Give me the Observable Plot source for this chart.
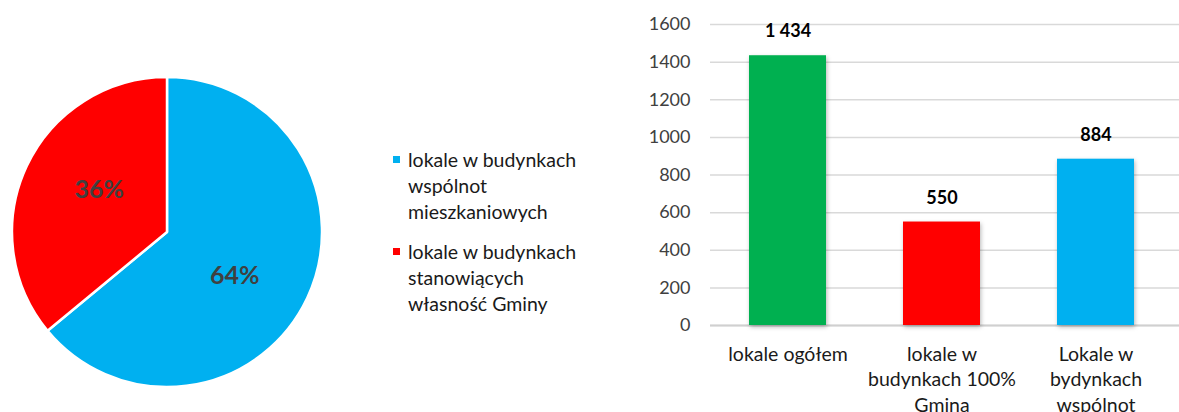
<!DOCTYPE html>
<html>
<head>
<meta charset="utf-8">
<script src="https://cdn.jsdelivr.net/npm/d3@7"></script>
<script src="https://cdn.jsdelivr.net/npm/@observablehq/plot@0.6"></script>
<style>
  html, body { margin: 0; padding: 0; background: #fff; }
  #root { position: relative; width: 1179px; height: 412px; overflow: hidden; font-family: Lato, "Open Sans", sans-serif; }
  #pie { position: absolute; left: 0; top: 0; }
  #bars { position: absolute; left: 640px; top: 0; }
  #legend { position: absolute; left: 393px; top: 147px; }
  .item { position: relative; padding-left: 15px; margin-bottom: 14px; font-size: 19.5px; line-height: 26px; color: #1a1a1a; white-space: pre-line; }
  .sw { position: absolute; left: 0; top: 9px; width: 7px; height: 7px; }
  .barshadow { filter: drop-shadow(1px 2px 2px rgba(0,0,0,0.28)); }
</style>
</head>
<body>
<div id="root">
  <div id="pie"></div>
  <div id="legend"></div>
  <div id="bars"></div>
</div>
<script>
// ---- Pie data ----
const pieCategories = ["lokale w budynkach wspólnot mieszkaniowych", "lokale w budynkach stanowiących własność Gminy"];
const pieValues = [64, 36];
const pieLabels = ["64%", "36%"];
const pieColors = ["#00B0F0", "#FF0000"];
const legendLabels = ["lokale w budynkach\nwspólnot\nmieszkaniowych", "lokale w budynkach\nstanowiących\nwłasność Gminy"];

// ---- Bar data ----
const barCategories = ["lokale ogółem", "lokale w budynkach 100% Gmina", "Lokale w bydynkach wspólnot"];
const barTickLabels = ["lokale ogółem", "lokale w\nbudynkach 100%\nGmina", "Lokale w\nbydynkach\nwspólnot"];
const barValues = [1434, 550, 884];
const barValueLabels = ["1 434", "550", "884"];
const barColors = ["#00B050", "#FF0000", "#00B0F0"];
const yTicks = [0, 200, 400, 600, 800, 1000, 1200, 1400, 1600];

// ---- Pie chart ----
const pieData = pieCategories.map((c, i) => ({category: c, value: pieValues[i], label: pieLabels[i], color: pieColors[i]}));

function pieMark(index, scales, values, dimensions) {
  const dims = dimensions || {width: 340, height: 412, marginLeft: 12, marginRight: 18, marginTop: 77, marginBottom: 25};
  const iw = dims.width - dims.marginLeft - dims.marginRight;
  const ih = dims.height - dims.marginTop - dims.marginBottom;
  const cx = dims.marginLeft + iw / 2;
  const cy = dims.marginTop + ih / 2;
  const r = Math.min(iw, ih) / 2;
  const arcs = d3.pie().sort(null).value(d => d.value)(pieData);
  const arc = d3.arc().innerRadius(0).outerRadius(r);
  const labelPos = (d) => {
    const a = (d.startAngle + d.endAngle) / 2 + 0.13;
    const rr = r * 0.52;
    return [rr * Math.sin(a), -rr * Math.cos(a)];
  };
  const g = d3.create("svg:g").attr("transform", `translate(${cx},${cy})`);
  g.selectAll("path").data(arcs).join("path")
    .attr("d", arc)
    .attr("fill", d => d.data.color)
    .attr("stroke", "#fff")
    .attr("stroke-width", 2.5)
    .attr("stroke-linejoin", "round");
  g.selectAll("text").data(arcs).join("text")
    .attr("transform", d => `translate(${labelPos(d)})`)
    .attr("text-anchor", "middle")
    .attr("dy", "0.36em")
    .attr("font-size", 25)
    .attr("font-weight", "bold")
    .attr("fill", "#404040")
    .text(d => d.data.label);
  return g.node();
}

const pie = Plot.plot({
  width: 340,
  height: 412,
  marginLeft: 12,
  marginRight: 18,
  marginTop: 77,
  marginBottom: 25,
  x: {axis: null},
  y: {axis: null},
  style: {fontFamily: "Lato, sans-serif", background: "transparent"},
  marks: [pieMark]
});
document.getElementById("pie").appendChild(pie);

// ---- Legend ----
const legend = document.getElementById("legend");
legendLabels.forEach((t, i) => {
  const it = document.createElement("div");
  it.className = "item";
  const sw = document.createElement("span");
  sw.className = "sw";
  sw.style.background = pieColors[i];
  it.appendChild(sw);
  it.appendChild(document.createTextNode(t));
  legend.appendChild(it);
});

// ---- Bar chart ----
const barData = barCategories.map((c, i) => ({category: c, value: barValues[i], label: barValueLabels[i], color: barColors[i]}));
const tickLabelOf = new Map(barCategories.map((c, i) => [c, barTickLabels[i]]));

const bars = Plot.plot({
  width: 539,
  height: 412,
  marginLeft: 70,
  marginRight: 0,
  marginTop: 24,
  marginBottom: 87,
  style: {fontFamily: "Lato, sans-serif", background: "transparent", overflow: "visible"},
  x: {domain: barCategories, paddingInner: 0.5, paddingOuter: 0.2727, align: 0.464},
  y: {domain: [0, 1600]},
  marks: [
    Plot.gridY(yTicks, {stroke: "#d9d9d9", strokeOpacity: 1, strokeWidth: 1.5}),
    Plot.ruleY([0], {stroke: "#d0d0d0", strokeWidth: 2}),
    Plot.barY(barData, {x: "category", y: "value", fill: "color", className: "barshadow"}),
    Plot.text(barData, {x: "category", y: "value", text: "label", dy: -24, fontSize: 18, fontWeight: "bold", fill: "#000"}),
    Plot.axisY(yTicks, {tickSize: 0, tickPadding: 20, fontSize: 18, fill: "#404040", label: null, tickFormat: d3.format("d")}),
    Plot.axisX({tickSize: 0, tickPadding: 17, fontSize: 19.5, fill: "#1a1a1a", lineHeight: 1.31, label: null, tickFormat: d => tickLabelOf.get(d)})
  ]
});
document.getElementById("bars").appendChild(bars);
</script>
</body>
</html>
